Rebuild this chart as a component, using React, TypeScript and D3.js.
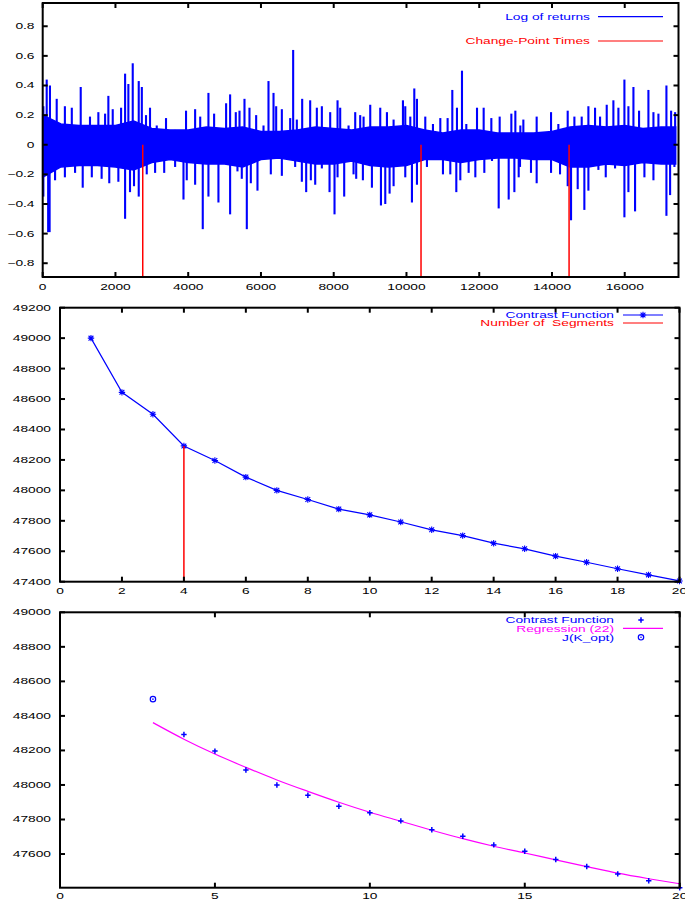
import React from "react";
import * as d3 from "d3";

// ---------- Panel 1 data (log of returns) ----------
const cpTimes = [2750, 10400, 14470];
const bandT = [0, 500, 1000, 1500, 2000, 2500, 3000, 3500, 4000, 4500, 5000, 5500, 6000, 6500, 7000, 7500, 8000, 8500, 9000, 9500, 10000, 10500, 11000, 11500, 12000, 12500, 13000, 13500, 14000, 14500, 15000, 15500, 16000, 16500, 17000, 17400];
const bandHi = [0.2, 0.14, 0.13, 0.13, 0.13, 0.16, 0.11, 0.1, 0.1, 0.12, 0.11, 0.12, 0.09, 0.09, 0.1, 0.12, 0.11, 0.1, 0.12, 0.12, 0.13, 0.1, 0.08, 0.1, 0.1, 0.08, 0.08, 0.08, 0.09, 0.12, 0.13, 0.12, 0.13, 0.11, 0.12, 0.12];
const bandLo = [-0.22, -0.15, -0.14, -0.14, -0.15, -0.17, -0.12, -0.1, -0.12, -0.13, -0.13, -0.15, -0.1, -0.09, -0.11, -0.13, -0.13, -0.11, -0.14, -0.15, -0.14, -0.1, -0.1, -0.12, -0.1, -0.09, -0.09, -0.1, -0.1, -0.15, -0.15, -0.13, -0.14, -0.12, -0.13, -0.13];
const peakT = [18, 110, 200, 385, 610, 800, 1045, 1300, 1530, 1715, 1805, 1925, 2155, 2265, 2355, 2475, 2640, 2725, 2840, 2950, 3135, 3390, 3640, 3940, 4190, 4330, 4556, 4712, 5042, 5152, 5308, 5410, 5547, 5684, 5868, 6070, 6207, 6345, 6418, 6574, 6803, 6885, 6986, 7133, 7353, 7536, 7674, 7903, 8105, 8178, 8408, 8591, 8728, 8821, 9004, 9279, 9463, 9646, 9903, 9967, 10105, 10215, 10288, 10517, 10728, 10930, 11131, 11260, 11388, 11526, 11645, 11939, 12122, 12333, 12562, 12883, 12993, 13130, 13213, 13579, 13974, 14175, 14432, 14616, 14817, 15001, 15184, 15322, 15505, 15688, 15826, 15991, 16101, 16239, 16394, 16651, 16789, 16926, 17146, 17275, 17385];
const peakV = [0.26, 0.44, 0.4, 0.31, 0.26, 0.25, 0.39, 0.19, 0.22, 0.21, 0.33, 0.24, 0.25, 0.48, 0.41, 0.55, 0.43, 0.39, 0.2, 0.25, 0.13, 0.18, 0.1, 0.23, 0.24, 0.19, 0.35, 0.21, 0.28, 0.34, 0.22, 0.23, 0.31, 0.25, 0.2, 0.13, 0.43, 0.35, 0.26, 0.24, 0.18, 0.64, 0.17, 0.31, 0.3, 0.25, 0.26, 0.22, 0.3, 0.25, 0.13, 0.22, 0.2, 0.19, 0.27, 0.25, 0.22, 0.17, 0.3, 0.26, 0.19, 0.38, 0.31, 0.19, 0.14, 0.18, 0.18, 0.37, 0.25, 0.5, 0.14, 0.25, 0.25, 0.18, 0.19, 0.21, 0.23, 0.13, 0.17, 0.19, 0.22, 0.14, 0.23, 0.19, 0.19, 0.26, 0.25, 0.19, 0.27, 0.3, 0.25, 0.44, 0.26, 0.39, 0.23, 0.37, 0.22, 0.21, 0.4, 0.23, 0.22];
const troughT = [18, 150, 190, 340, 610, 890, 1100, 1350, 1620, 1830, 2080, 2265, 2400, 2510, 2640, 2860, 3090, 3340, 3640, 3870, 3960, 4190, 4400, 4556, 4831, 5152, 5354, 5473, 5611, 5721, 5904, 6271, 6574, 6940, 7124, 7243, 7371, 7491, 7674, 7885, 8022, 8105, 8288, 8545, 8618, 8802, 9050, 9298, 9417, 9536, 9646, 9967, 10150, 10288, 10563, 11003, 11205, 11370, 11480, 11709, 11893, 12140, 12351, 12535, 12810, 12966, 13085, 13121, 13423, 13579, 13974, 14221, 14432, 14524, 14707, 14890, 15001, 15276, 15478, 15734, 15991, 16101, 16284, 16541, 16789, 17146, 17247, 17366];
const troughV = [-0.35, -0.59, -0.59, -0.24, -0.22, -0.19, -0.29, -0.22, -0.23, -0.26, -0.25, -0.5, -0.32, -0.28, -0.35, -0.2, -0.19, -0.19, -0.15, -0.37, -0.24, -0.27, -0.57, -0.35, -0.39, -0.47, -0.18, -0.23, -0.57, -0.26, -0.31, -0.2, -0.21, -0.15, -0.25, -0.32, -0.24, -0.27, -0.16, -0.32, -0.47, -0.22, -0.35, -0.2, -0.23, -0.24, -0.29, -0.41, -0.4, -0.33, -0.28, -0.22, -0.39, -0.27, -0.15, -0.2, -0.2, -0.32, -0.24, -0.19, -0.22, -0.19, -0.11, -0.43, -0.37, -0.32, -0.22, -0.15, -0.19, -0.26, -0.19, -0.2, -0.28, -0.51, -0.3, -0.44, -0.31, -0.17, -0.22, -0.16, -0.49, -0.32, -0.45, -0.22, -0.24, -0.48, -0.34, -0.15];
const p1XTicks = [0, 2000, 4000, 6000, 8000, 10000, 12000, 14000, 16000];
const p1YTicks = [-0.8, -0.6, -0.4, -0.2, 0, 0.2, 0.4, 0.6, 0.8];

// ---------- Panel 2 / 3 data ----------
const segK = d3.range(1, 21);
const contrast = [49000, 48644, 48500, 48292, 48196, 48087, 48000, 47940, 47877, 47839, 47792, 47741, 47703, 47653, 47616, 47568, 47528, 47485, 47445, 47405];
const kOpt = 4;
const p2XTicks = [0, 2, 4, 6, 8, 10, 12, 14, 16, 18, 20];
const p2YTicks = [47400, 47600, 47800, 48000, 48200, 48400, 48600, 48800, 49000, 49200];
const regK = d3.range(3, 21);
const regV = [48361, 48265, 48179, 48102, 48029, 47963, 47900, 47842, 47790, 47738, 47689, 47645, 47606, 47566, 47527, 47489, 47457, 47428];
const jOptK = 3;
const jOptV = 48497;
const p3XTicks = [0, 5, 10, 15, 20];
const p3YTicks = [47600, 47800, 48000, 48200, 48400, 48600, 48800, 49000];

const BLUE = "#0000ff";
const RED = "#ff0000";
const MAG = "#ff00ff";
const FONT = "'Liberation Sans', Arial, Helvetica, sans-serif";

const T = ({ x, y, anchor = "middle", fill = "#000", children }: any) => (
  <text
    transform={`translate(${x},${y}) scale(1.58,1)`}
    textAnchor={anchor}
    fontSize={8.7}
    fontFamily={FONT}
    fill={fill}
    style={{ whiteSpace: "pre" }}
  >
    {children}
  </text>
);

const Frame = ({ x, y, xt, yt, xLabelY, yLabelX, fmtY }: any) => {
  const [x0, x1] = x.range();
  const [y0, y1] = y.range(); // y0 bottom, y1 top
  const tl = 5;
  return (
    <g>
      {xt.map((t: number) => (
        <g key={"x" + t}>
          <line x1={x(t)} x2={x(t)} y1={y0} y2={y0 - tl} stroke="#000" strokeWidth={2} />
          <line x1={x(t)} x2={x(t)} y1={y1} y2={y1 + tl} stroke="#000" strokeWidth={2} />
          <T x={x(t)} y={xLabelY}>{String(t)}</T>
        </g>
      ))}
      {yt.map((t: number) => (
        <g key={"y" + t}>
          <line x1={x0} x2={x0 + tl} y1={y(t)} y2={y(t)} stroke="#000" strokeWidth={2} />
          <line x1={x1} x2={x1 - tl} y1={y(t)} y2={y(t)} stroke="#000" strokeWidth={2} />
          <T x={yLabelX} y={y(t) + 3} anchor="end">{fmtY(t)}</T>
        </g>
      ))}
      <rect x={x0} y={y1} width={x1 - x0} height={y0 - y1} fill="none" stroke="#000" strokeWidth={2} />
    </g>
  );
};

const Star = ({ cx, cy, s = 3.2, color }: any) => (
  <path
    d={`M${cx - s},${cy}H${cx + s}M${cx},${cy - s}V${cy + s}M${cx - s * 0.75},${cy - s * 0.75}L${cx + s * 0.75},${cy + s * 0.75}M${cx - s * 0.75},${cy + s * 0.75}L${cx + s * 0.75},${cy - s * 0.75}`}
    stroke={color}
    strokeWidth={1.1}
    fill="none"
  />
);
const Plus = ({ cx, cy, s = 2.7, color }: any) => (
  <path d={`M${cx - s},${cy}H${cx + s}M${cx},${cy - s}V${cy + s}`} stroke={color} strokeWidth={1.5} fill="none" />
);
const CircDot = ({ cx, cy, color }: any) => (
  <g>
    <circle cx={cx} cy={cy} r={2.7} fill="none" stroke={color} strokeWidth={1.2} />
    <circle cx={cx} cy={cy} r={0.8} fill={color} />
  </g>
);

function Panel1() {
  const x = d3.scaleLinear().domain([0, 17478]).range([42.7, 678.5]);
  const y = d3.scaleLinear().domain([-0.893, 0.957]).range([277, 3]);
  const band = d3
    .area<number>()
    .x((_, i) => x(bandT[i]))
    .y0((_, i) => y(bandLo[i]))
    .y1((_, i) => y(bandHi[i]));
  const ext = [
    ...peakT.map((t, i) => ({ t, v: peakV[i] })),
    ...troughT.map((t, i) => ({ t, v: troughV[i] })),
  ].sort((a, b) => a.t - b.t);
  return (
    <g>
      <path d={band(bandT) || ""} fill={BLUE} stroke={BLUE} strokeWidth={1.5} />
      {ext.map((d, i) => (
        <line key={i} x1={x(d.t)} x2={x(d.t)} y1={y(0)} y2={y(d.v)} stroke={BLUE} strokeWidth={2.1} />
      ))}
      {cpTimes.map((t) => (
        <line key={t} x1={x(t)} x2={x(t)} y1={y(0)} y2={y(-0.893)} stroke={RED} strokeWidth={1.5} />
      ))}
      <Frame x={x} y={y} xt={p1XTicks} yt={p1YTicks} xLabelY={289.5} yLabelX={34.5} fmtY={(t: number) => (t === 0 ? "0" : d3.format(".1f")(t))} />
      <T x={590} y={20} anchor="end" fill={BLUE}>Log of returns</T>
      <line x1={598} x2={663} y1={16.7} y2={16.7} stroke={BLUE} strokeWidth={1.2} />
      <T x={590} y={44} anchor="end" fill={RED}>Change-Point Times</T>
      <line x1={598} x2={663} y1={41} y2={41} stroke={RED} strokeWidth={1.2} />
    </g>
  );
}

function Panel2() {
  const x = d3.scaleLinear().domain([0, 20]).range([60, 679.5]);
  const y = d3.scaleLinear().domain([47400, 49200]).range([581.7, 307.7]);
  const line = d3
    .line<number>()
    .x((k) => x(k))
    .y((_, i) => y(contrast[i]));
  return (
    <g>
      <path d={line(segK) || ""} fill="none" stroke={BLUE} strokeWidth={1.2} />
      {segK.map((k, i) => (
        <Star key={k} cx={x(k)} cy={y(contrast[i])} color={BLUE} />
      ))}
      <line x1={x(kOpt)} x2={x(kOpt)} y1={y(contrast[kOpt - 1])} y2={y(47400)} stroke={RED} strokeWidth={1.5} />
      <Frame x={x} y={y} xt={p2XTicks} yt={p2YTicks} xLabelY={594} yLabelX={51} fmtY={(t: number) => String(t)} />
      <T x={614} y={318} anchor="end" fill={BLUE}>Contrast Function</T>
      <line x1={623} x2={663} y1={315} y2={315} stroke={BLUE} strokeWidth={1.2} />
      <Star cx={643} cy={315} color={BLUE} />
      <T x={614} y={326} anchor="end" fill={RED}>{"Number of  Segments"}</T>
      <line x1={623} x2={663} y1={323} y2={323} stroke={RED} strokeWidth={1.2} />
    </g>
  );
}

function Panel3() {
  const x = d3.scaleLinear().domain([0, 20]).range([60, 679.7]);
  const y = d3.scaleLinear().domain([47405, 49000]).range([887.7, 612.3]);
  const reg = d3
    .line<number>()
    .x((k) => x(k))
    .y((_, i) => y(regV[i]))
    .curve(d3.curveMonotoneX);
  const pts = segK.filter((k) => k >= 4);
  return (
    <g>
      <path d={reg(regK) || ""} fill="none" stroke={MAG} strokeWidth={1.2} />
      {pts.map((k) => (
        <Plus key={k} cx={x(k)} cy={y(contrast[k - 1])} color={BLUE} />
      ))}
      <CircDot cx={x(jOptK)} cy={y(jOptV)} color={BLUE} />
      <Frame x={x} y={y} xt={p3XTicks} yt={p3YTicks} xLabelY={899} yLabelX={51} fmtY={(t: number) => String(t)} />
      <T x={614} y={623} anchor="end" fill={BLUE}>Contrast Function</T>
      <Plus cx={641} cy={620} color={BLUE} />
      <T x={614} y={631.5} anchor="end" fill={MAG}>Regression (22)</T>
      <line x1={623} x2={663} y1={628.3} y2={628.3} stroke={MAG} strokeWidth={1.2} />
      <T x={614} y={640.5} anchor="end" fill={BLUE}>J(K_opt)</T>
      <CircDot cx={641} cy={637.3} color={BLUE} />
    </g>
  );
}

export default function App() {
  return (
    <svg
      width={685}
      height={903}
      style={{ position: "absolute", left: 0, top: 0, background: "#fff" }}
    >
      <rect width={685} height={903} fill="#fff" />
      <Panel1 />
      <Panel2 />
      <Panel3 />
    </svg>
  );
}
